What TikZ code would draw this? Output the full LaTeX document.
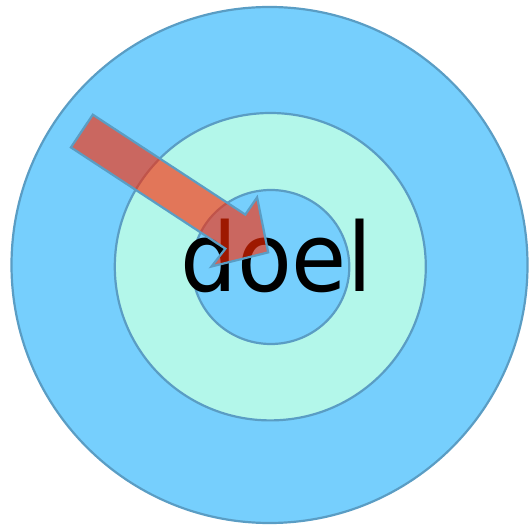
\documentclass[tikz,border=0pt]{standalone}
\usepackage{fontspec}
\newfontfamily\doelfont{DejaVu Sans}
\definecolor{ringblue}{RGB}{118,207,253}
\definecolor{ringcyan}{RGB}{179,247,234}
\definecolor{ringline}{RGB}{90,157,196}
\definecolor{arrowred}{RGB}{255,40,0}
\tikzset{
  ring/.style={draw=ringline, line width=2.2pt},
  bigarrow/.style={draw=ringline, line width=2.2pt, line join=miter, fill=arrowred, fill opacity=0.62, draw opacity=1},
}
\begin{document}
\begin{tikzpicture}[x=1pt,y=1pt]
\useasboundingbox (0,0) rectangle (529,524);
\path[ring, fill=ringblue] (269.5,259) circle [radius=258];
\path[ring, fill=ringcyan] (270.3,257.3) ellipse [x radius=155.5, y radius=153.7];
\path[ring, fill=ringblue] (270.8,257) ellipse [x radius=78.5, y radius=77];
\node[inner sep=0pt, anchor=base west, xscale=0.94] (doel) at (179.9,232.2)
  {\doelfont\fontsize{95.4}{100}\selectfont doel};
\coordinate (a1) at (92.8,409.3);
\coordinate (a2) at (245.3,309.4);
\coordinate (a3) at (257.1,326.6);
\coordinate (a4) at (268.2,271.6);
\coordinate (a5) at (211.5,257.5);
\coordinate (a6) at (225.4,275.3);
\coordinate (a7) at (70.9,376.6);
\path[bigarrow] (a1) -- (a2) -- (a3) -- (a4) -- (a5) -- (a6) -- (a7) -- cycle;
\end{tikzpicture}
\end{document}
